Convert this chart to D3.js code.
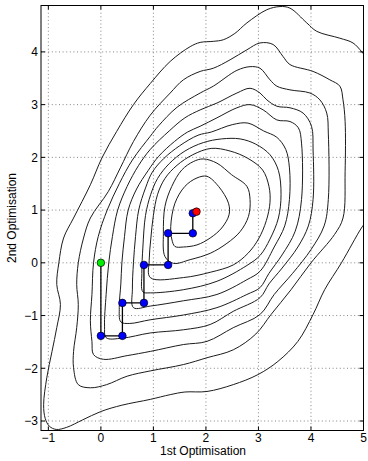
<!DOCTYPE html>
<html>
<head>
<meta charset="utf-8">
<script src="https://cdn.jsdelivr.net/npm/d3@7"></script>
<style>
  html, body { margin: 0; padding: 0; background: #fff; }
  svg { display: block; font-family: "Liberation Sans", Arial, Helvetica, sans-serif; }
</style>
</head>
<body>
<svg id="chart" width="368" height="461"></svg>
<script>
// axis ticks
const xTicks = [-1, 0, 1, 2, 3, 4, 5];
const yTicks = [-3, -2, -1, 0, 1, 2, 3, 4];

// coordinate descent path (start, steps, end)
const pathX = [0, 0, 0.41, 0.41, 0.82, 0.82, 1.28, 1.28, 1.75, 1.75];
const pathY = [0, -1.385, -1.385, -0.76, -0.76, -0.04, -0.04, 0.56, 0.56, 0.94];
const endPoint = [1.82, 0.97];

// contour lines, outermost one leaves the frame
const contourOuter = [[5.05,0.78],[4.96,0.66],[4.58,0.0],[4.26,-0.51],[4.04,-0.98],[3.75,-1.49],[3.37,-1.87],[2.99,-2.12],[2.52,-2.31],[2.02,-2.44],[1.6,-2.45],[1.32,-2.5],[0.94,-2.59],[0.4,-2.7],[0.0,-2.82],[-0.35,-2.98],[-0.65,-3.12],[-0.85,-3.16],[-0.98,-3.1],[-1.06,-2.95],[-1.09,-2.69],[-1.03,-2.18],[-0.93,-1.68],[-0.84,-1.23],[-0.77,-0.79],[-0.84,-0.41],[-0.8,0.0],[-0.71,0.47],[-0.52,0.85],[-0.2,1.48],[0.02,1.99],[0.3,2.49],[0.62,3.0],[0.94,3.4],[1.32,3.82],[1.7,4.1],[1.89,4.18],[2.14,4.2],[2.33,4.23],[2.55,4.35],[2.78,4.55],[3.16,4.8],[3.41,4.86],[3.6,4.83],[3.92,4.55],[4.11,4.39],[4.55,4.26],[4.8,4.17],[4.96,4.01],[5.05,3.9]];
const contour1 = [[-0.43,-2.31],[-0.2,-2.37],[0.11,-2.31],[0.5,-2.15],[0.94,-2.05],[1.57,-1.93],[2.02,-1.8],[2.52,-1.65],[2.95,-1.35],[3.24,-0.98],[3.62,-0.51],[4.0,0.0],[4.45,0.54],[4.61,0.85],[4.65,1.73],[4.65,2.68],[4.61,3.09],[4.55,3.35],[4.36,3.47],[4.04,3.63],[3.6,3.76],[3.47,3.91],[3.28,4.14],[3.03,4.17],[2.78,4.04],[2.46,3.85],[2.14,3.69],[1.89,3.63],[1.57,3.47],[1.32,3.22],[0.94,2.8],[0.62,2.3],[0.37,1.8],[0.14,1.35],[-0.2,0.85],[-0.33,0.47],[-0.43,0.0],[-0.46,-0.41],[-0.43,-0.79],[-0.46,-1.23],[-0.52,-1.68],[-0.52,-1.99]];
const contour2 = [[-0.14,-1.74],[0.05,-1.83],[0.5,-1.76],[0.94,-1.68],[1.57,-1.55],[2.02,-1.49],[2.52,-1.23],[3.03,-0.98],[3.3,-0.6],[3.65,-0.2],[4.0,0.25],[4.25,0.7],[4.33,1.2],[4.33,2.46],[4.3,2.84],[4.17,3.09],[3.98,3.22],[3.6,3.28],[3.35,3.35],[3.22,3.47],[3.03,3.69],[2.84,3.72],[2.59,3.65],[2.14,3.35],[1.89,3.22],[1.45,2.95],[1.1,2.6],[0.94,2.4],[0.6,1.95],[0.35,1.5],[0.12,1.0],[-0.05,0.5],[-0.14,0.0],[-0.17,-0.6],[-0.2,-1.1],[-0.17,-1.49]];
const contour3 = [[0.1,-1.42],[0.4,-1.43],[0.94,-1.33],[1.57,-1.27],[2.08,-1.17],[2.52,-0.92],[3.03,-0.66],[3.2,-0.4],[3.45,-0.1],[3.75,0.3],[3.95,0.7],[4.04,1.2],[4.04,2.14],[4.01,2.59],[3.85,2.84],[3.6,2.94],[3.35,2.97],[3.16,3.09],[3.03,3.22],[2.84,3.31],[2.59,3.22],[2.21,3.03],[1.89,2.9],[1.6,2.75],[1.3,2.5],[0.94,2.15],[0.72,1.85],[0.5,1.45],[0.32,1.0],[0.22,0.5],[0.15,0.0],[0.1,-0.6],[0.07,-1.2]];
const contour4 = [[0.38,-1.12],[0.55,-1.15],[0.94,-1.08],[1.57,-0.99],[2.21,-0.85],[2.78,-0.6],[3.03,-0.47],[3.2,-0.2],[3.45,0.15],[3.7,0.6],[3.82,1.2],[3.82,2.27],[3.76,2.56],[3.6,2.68],[3.35,2.71],[3.09,2.9],[2.84,3.0],[2.59,2.94],[2.21,2.75],[1.89,2.59],[1.65,2.48],[1.4,2.3],[1.1,2.02],[0.9,1.75],[0.68,1.4],[0.52,1.0],[0.45,0.5],[0.4,0.0],[0.38,-0.4],[0.35,-0.85]];
const contour5 = [[0.62,-0.85],[0.94,-0.82],[1.57,-0.72],[2.21,-0.6],[2.78,-0.32],[3.03,-0.16],[3.3,0.3],[3.5,0.7],[3.59,1.2],[3.59,1.8],[3.52,2.15],[3.35,2.38],[3.1,2.5],[2.8,2.65],[2.5,2.62],[2.1,2.48],[1.85,2.42],[1.5,2.22],[1.2,1.98],[0.98,1.72],[0.85,1.42],[0.72,1.0],[0.66,0.5],[0.62,0.0],[0.6,-0.5]];
const contour6 = [[0.8,-0.55],[0.94,-0.57],[1.57,-0.51],[2.21,-0.35],[2.78,-0.05],[3.03,0.14],[3.22,0.45],[3.38,0.85],[3.43,1.3],[3.38,1.75],[3.22,2.05],[2.95,2.25],[2.65,2.35],[2.3,2.35],[1.95,2.28],[1.6,2.12],[1.3,1.88],[1.08,1.6],[0.95,1.3],[0.85,0.9],[0.8,0.3],[0.78,-0.2]];
const contour7 = [[0.94,-0.28],[1.57,-0.28],[2.08,-0.18],[2.52,-0.04],[2.8,0.18],[3.0,0.45],[3.15,0.8],[3.22,1.15],[3.2,1.45],[3.08,1.76],[2.8,1.98],[2.46,2.12],[2.1,2.17],[1.75,2.05],[1.45,1.85],[1.22,1.6],[1.08,1.3],[1.0,0.9],[0.95,0.45],[0.92,0.05]];
const contour8 = [[1.22,0.12],[1.38,-0.01],[1.7,0.06],[2.08,0.18],[2.4,0.37],[2.65,0.59],[2.81,0.88],[2.84,1.2],[2.78,1.45],[2.49,1.67],[2.21,1.89],[1.95,1.97],[1.76,1.92],[1.54,1.76],[1.35,1.45],[1.22,1.07],[1.19,0.56]];
const contour9 = [[1.41,0.31],[1.57,0.3],[1.83,0.34],[2.08,0.47],[2.3,0.66],[2.44,0.91],[2.43,1.13],[2.24,1.45],[2.02,1.64],[1.83,1.61],[1.6,1.45],[1.41,1.13],[1.33,0.69],[1.35,0.45]];
const closedContours = [contour1, contour2, contour3, contour4, contour5, contour6, contour7, contour8, contour9];

const PLOT = {left: 41, right: 363.5, top: 5.5, bottom: 430.5};
const CONTOUR_COLOUR = "#1c1c1c";

const svg = d3.select("#chart");

const xScale = d3.scaleLinear().domain([-1.14, 5]).range([PLOT.left, PLOT.right]);
const yScale = d3.scaleLinear().domain([-3.18, 4.88]).range([PLOT.bottom, PLOT.top]);

svg.append("defs").append("clipPath").attr("id", "plot-clip")
    .append("rect")
    .attr("x", PLOT.left).attr("y", PLOT.top)
    .attr("width", PLOT.right - PLOT.left).attr("height", PLOT.bottom - PLOT.top);

// dotted grid
const grid = svg.append("g")
    .attr("stroke", "#666")
    .attr("stroke-width", 0.8)
    .attr("stroke-dasharray", "1,2.6");
grid.selectAll("line.gx").data(xTicks).join("line")
    .attr("x1", d => xScale(d)).attr("x2", d => xScale(d))
    .attr("y1", PLOT.top).attr("y2", PLOT.bottom);
grid.selectAll("line.gy").data(yTicks).join("line")
    .attr("y1", d => yScale(d)).attr("y2", d => yScale(d))
    .attr("x1", PLOT.left).attr("x2", PLOT.right);

// contours
const plot = svg.append("g").attr("clip-path", "url(#plot-clip)");
const openLine = d3.line().x(d => xScale(d[0])).y(d => yScale(d[1])).curve(d3.curveCatmullRom.alpha(0.5));
const closedLine = d3.line().x(d => xScale(d[0])).y(d => yScale(d[1])).curve(d3.curveCatmullRomClosed.alpha(0.5));

plot.append("path")
    .attr("d", openLine(contourOuter))
    .attr("fill", "none").attr("stroke", CONTOUR_COLOUR).attr("stroke-width", 1);
plot.selectAll("path.contour").data(closedContours).join("path")
    .attr("class", "contour")
    .attr("d", d => closedLine(d))
    .attr("fill", "none").attr("stroke", CONTOUR_COLOUR).attr("stroke-width", 1);

// descent path
const steps = pathX.map((x, i) => [x, pathY[i]]).concat([endPoint]);
plot.append("path")
    .attr("d", d3.line().x(d => xScale(d[0])).y(d => yScale(d[1]))(steps))
    .attr("fill", "none").attr("stroke", "#000").attr("stroke-width", 1.3);

plot.selectAll("circle.step").data(steps.slice(1, -1)).join("circle")
    .attr("class", "step")
    .attr("cx", d => xScale(d[0])).attr("cy", d => yScale(d[1]))
    .attr("r", 3.8)
    .attr("fill", "#0000ff").attr("stroke", "#000").attr("stroke-width", 0.7);
plot.append("circle")
    .attr("cx", xScale(pathX[0])).attr("cy", yScale(pathY[0])).attr("r", 3.8)
    .attr("fill", "#00ee00").attr("stroke", "#000").attr("stroke-width", 0.7);
plot.append("circle")
    .attr("cx", xScale(endPoint[0])).attr("cy", yScale(endPoint[1])).attr("r", 3.8)
    .attr("fill", "#ff0000").attr("stroke", "#000").attr("stroke-width", 0.7);

// frame with inward ticks on all sides
const TICK = 4;
const frame = svg.append("g").attr("stroke", "#000").attr("stroke-width", 1);
frame.append("rect")
    .attr("x", PLOT.left).attr("y", PLOT.top)
    .attr("width", PLOT.right - PLOT.left).attr("height", PLOT.bottom - PLOT.top)
    .attr("fill", "none");
xTicks.forEach(t => {
    const x = xScale(t);
    frame.append("line").attr("x1", x).attr("x2", x).attr("y1", PLOT.bottom).attr("y2", PLOT.bottom - TICK);
    frame.append("line").attr("x1", x).attr("x2", x).attr("y1", PLOT.top).attr("y2", PLOT.top + TICK);
});
yTicks.forEach(t => {
    const y = yScale(t);
    frame.append("line").attr("y1", y).attr("y2", y).attr("x1", PLOT.left).attr("x2", PLOT.left + TICK);
    frame.append("line").attr("y1", y).attr("y2", y).attr("x1", PLOT.right).attr("x2", PLOT.right - TICK);
});

// tick labels
const fmt = d => d < 0 ? "\u2212" + Math.abs(d) : String(d);
svg.append("g").selectAll("text").data(xTicks).join("text")
    .attr("x", d => xScale(d)).attr("y", 441.5)
    .attr("text-anchor", "middle").attr("font-size", 12)
    .text(fmt);
svg.append("g").selectAll("text").data(yTicks).join("text")
    .attr("x", 38).attr("y", d => yScale(d) + 4.3)
    .attr("text-anchor", "end").attr("font-size", 12)
    .text(fmt);

// axis titles
svg.append("text")
    .attr("x", 203).attr("y", 455)
    .attr("text-anchor", "middle").attr("font-size", 12)
    .text("1st Optimisation");
svg.append("text")
    .attr("transform", "translate(16,218) rotate(-90)")
    .attr("text-anchor", "middle").attr("font-size", 12)
    .text("2nd Optimisation");
</script>
</body>
</html>
